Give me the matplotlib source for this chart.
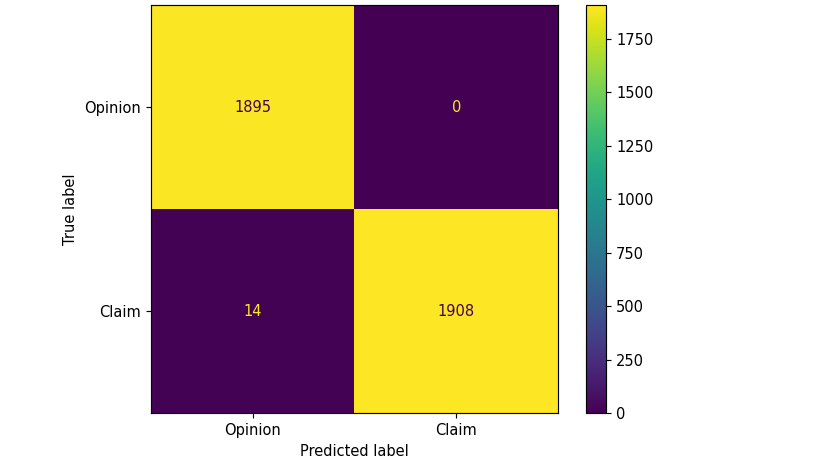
import matplotlib
matplotlib.use("Agg")
import matplotlib.pyplot as plt
import numpy as np

labels = ["Opinion", "Claim"]
row_opinion = [1895, 0]
row_claim = [14, 1908]
cm = np.array([row_opinion, row_claim])

DPI = 105
W, H = 828, 466
fig = plt.figure(figsize=(W / DPI, H / DPI), dpi=DPI)
ax = fig.add_axes([151/W, 1-413/H, 407/W, 408/H])
cmap = plt.get_cmap("viridis")
im = ax.imshow(cm, interpolation="nearest", cmap=cmap, aspect="auto")
vmin, vmax = cm.min(), cm.max()
thresh = (vmax + vmin) / 2.0
cmap_min, cmap_max = cmap(0), cmap(1.0)
for i in range(2):
    for j in range(2):
        color = cmap_max if cm[i, j] < thresh else cmap_min
        ax.text(j, i, format(cm[i, j], "d"), ha="center", va="center", color=color, fontsize=10)
ax.set_xticks(range(2))
ax.set_yticks(range(2))
ax.set_xticklabels(labels)
ax.set_yticklabels(labels)
ax.set_xlabel("Predicted label")
ax.set_ylabel("True label")
ax.set_ylim(1.5, -0.5)
cax = fig.add_axes([586/W, 1-413/H, 20/W, 408/H])
fig.colorbar(im, cax=cax)
fig.savefig("out.png", dpi=DPI)
